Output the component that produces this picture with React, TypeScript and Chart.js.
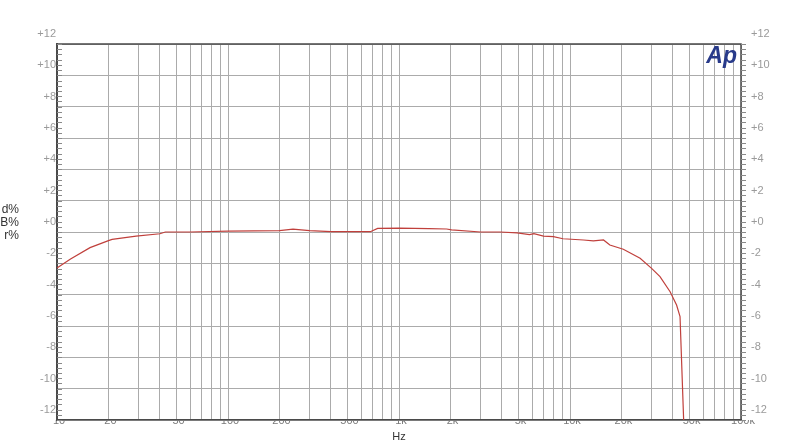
import { useEffect, useRef } from 'react';
import { Chart, registerables } from 'chart.js';

Chart.register(...registerables);

const FREQ = [10, 12, 15.6, 20, 21, 29, 40, 43, 60, 100, 200, 240, 300, 400, 680, 750, 1000, 1500, 1900, 2030, 3000, 3900, 4900, 5800, 6150, 7000, 8000, 9100, 12000, 13700, 15700, 17100, 20500, 25700, 30000, 33600, 38500, 42000, 44000, 46200];
const LEVEL = [-2.3, -1.73, -1.0, -0.55, -0.47, -0.26, -0.11, 0, 0, 0.06, 0.09, 0.18, 0.09, 0.02, 0.02, 0.23, 0.25, 0.21, 0.19, 0.13, 0, 0, -0.06, -0.17, -0.11, -0.26, -0.3, -0.43, -0.51, -0.57, -0.51, -0.83, -1.1, -1.68, -2.32, -2.85, -3.81, -4.66, -5.4, -12];

const DECADES = [10, 100, 1000, 10000];
const MULTS = [1, 2, 3, 4, 5, 6, 7, 8, 9];
const X_LABEL_VALUES = [10, 20, 50, 100, 200, 500, 1000, 2000, 5000, 10000, 20000, 50000, 100000];
const X_LABEL_TEXT = ['10', '20', '50', '100', '200', '500', '1k', '2k', '5k', '10k', '20k', '50k', '100k'];
const Y_TICKS = [-12, -10, -8, -6, -4, -2, 0, 2, 4, 6, 8, 10, 12];
const Y_LABELS = ['-12', '-10', '-8', '-6', '-4', '-2', '+0', '+2', '+4', '+6', '+8', '+10', '+12'];
const Y_TITLE = ['d%', 'B%', 'r%'];

const GRID_FREQ = [...DECADES.flatMap((d) => MULTS.map((m) => d * m)), 100000];

const FONT = 'Liberation Sans, Arial, sans-serif';
const GRID = '#ababab';
const FRAME = '#4a4a4a';

const decor = {
  id: 'apDecor',
  afterDraw(chart: Chart) {
    const { ctx, chartArea: a, scales } = chart;
    const y = scales.y;
    ctx.save();
    // frame
    ctx.strokeStyle = FRAME;
    ctx.lineWidth = 1.5;
    ctx.beginPath();
    ctx.moveTo(a.left, a.top);
    ctx.lineTo(a.right, a.top);
    ctx.lineTo(a.right, a.bottom);
    ctx.stroke();
    // minor ticks
    ctx.strokeStyle = '#8a8a8a';
    ctx.lineWidth = 1;
    ctx.beginPath();
    for (let i = 0; i <= 72; i++) {
      const py = Math.round(y.getPixelForValue(-12 + i / 3)) + 0.5;
      ctx.moveTo(a.left, py);
      ctx.lineTo(a.left + 5, py);
      ctx.moveTo(a.right, py);
      ctx.lineTo(a.right + 5, py);
    }
    ctx.stroke();
    // y title
    ctx.fillStyle = '#333';
    ctx.font = `12px ${FONT}`;
    ctx.textAlign = 'right';
    ctx.textBaseline = 'middle';
    const mid = (a.top + a.bottom) / 2;
    Y_TITLE.forEach((t, i) => ctx.fillText(t, 19, mid - 22 + i * 13));
    // Ap logo
    ctx.fillStyle = '#283a8a';
    ctx.font = `italic bold 23px ${FONT}`;
    ctx.textAlign = 'right';
    ctx.textBaseline = 'alphabetic';
    ctx.fillText('Ap', a.right - 4, a.top + 19);
    ctx.restore();
  },
};

const yLabel = (v: number | string) => {
  const i = Y_TICKS.indexOf(Number(v));
  return i >= 0 ? Y_LABELS[i] : '';
};

export default function App() {
  const ref = useRef<HTMLCanvasElement>(null);
  const chart = useRef<Chart | null>(null);

  useEffect(() => {
    if (!ref.current) return;
    chart.current?.destroy();
    chart.current = new Chart(ref.current, {
      type: 'line',
      data: {
        datasets: [
          {
            data: FREQ.map((f, i) => ({ x: f, y: LEVEL[i] })),
            borderColor: '#c0403c',
            borderWidth: 1.2,
            pointRadius: 0,
            tension: 0,
            fill: false,
          },
        ],
      },
      options: {
        responsive: true,
        maintainAspectRatio: false,
        animation: false,
        layout: { padding: { top: 44, left: 0, right: 0, bottom: 0 } },
        plugins: { legend: { display: false }, tooltip: { enabled: false } },
        scales: {
          x: {
            type: 'logarithmic',
            min: 10,
            max: 100000,
            afterBuildTicks: (s) => { s.ticks = GRID_FREQ.map((v) => ({ value: v })); },
            afterFit: (s) => { s.height = 27; },
            grid: { color: GRID, lineWidth: 1, drawTicks: false },
            border: { color: FRAME, width: 1.5 },
            ticks: {
              autoSkip: false,
              maxRotation: 0,
              padding: -6,
              labelOffset: 2,
              color: '#7a7a7a',
              font: { family: FONT, size: 11 },
              callback: (v) => {
                const i = X_LABEL_VALUES.indexOf(Number(v));
                return i >= 0 ? X_LABEL_TEXT[i] : '';
              },
            },
            title: {
              display: true,
              text: 'Hz',
              color: '#333',
              font: { family: FONT, size: 11 },
              padding: { top: 0, bottom: 3 },
            },
          },
          y: {
            min: -12,
            max: 12,
            afterBuildTicks: (s) => { s.ticks = Y_TICKS.map((v) => ({ value: v })); },
            afterFit: (s) => { s.width = 57; },
            grid: { color: GRID, lineWidth: 1, drawTicks: false },
            border: { color: FRAME, width: 2 },
            ticks: {
              padding: 1,
              labelOffset: -10,
              color: '#9a9a9a',
              font: { family: FONT, size: 11 },
              callback: yLabel,
            },
          },
          y2: {
            position: 'right',
            min: -12,
            max: 12,
            afterBuildTicks: (s) => { s.ticks = Y_TICKS.map((v) => ({ value: v })); },
            afterFit: (s) => { s.width = 59; },
            grid: { drawOnChartArea: false, drawTicks: false },
            border: { display: false },
            ticks: {
              padding: 10,
              labelOffset: -10,
              color: '#9a9a9a',
              font: { family: FONT, size: 11 },
              callback: yLabel,
            },
          },
        },
      },
      plugins: [decor],
    });
    return () => { chart.current?.destroy(); };
  }, []);

  return (
    <div style={{ position: 'fixed', left: 0, top: 0, width: 800, height: 447, background: '#fff' }}>
      <canvas ref={ref} />
    </div>
  );
}
